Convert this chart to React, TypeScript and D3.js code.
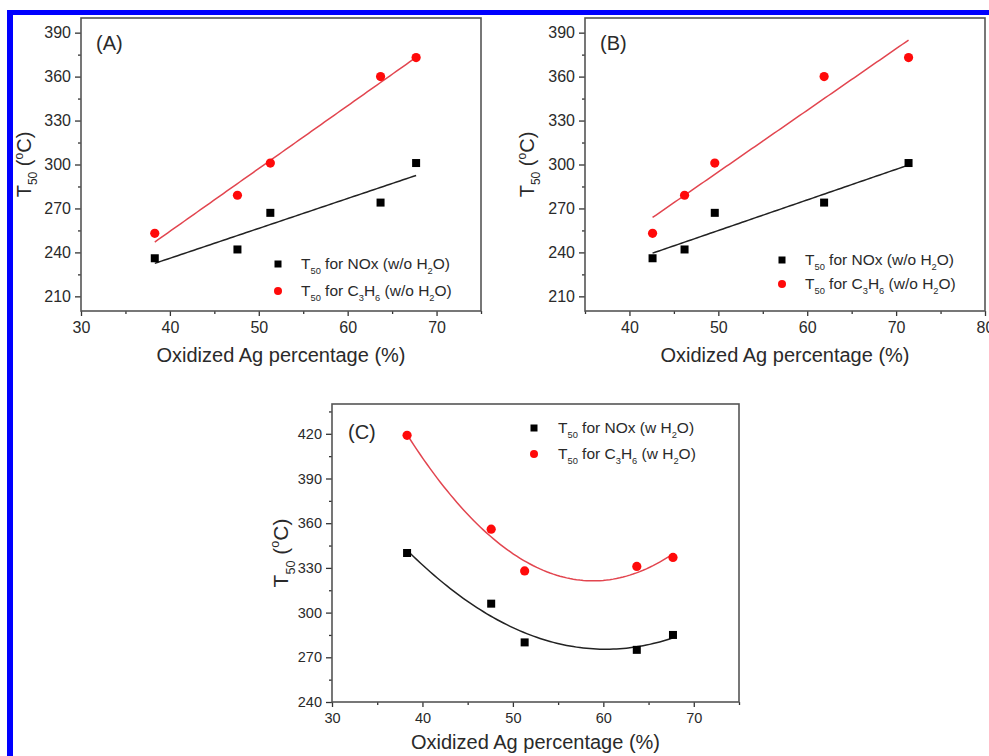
import React, { useEffect, useRef } from 'react';
import * as d3 from 'd3';

// oxidized Ag percentage (x) for each panel
const xA = [38.3, 47.6, 51.3, 63.7, 67.7];
const xB = [42.6, 46.2, 49.6, 61.9, 71.4];
const xC = [38.3, 47.6, 51.3, 63.7, 67.7];

// T50 values (°C)
const noxDry = [236, 242, 267, 274, 301];
const c3h6Dry = [253, 279, 301, 360, 373];
const noxWet = [340, 306, 280, 275, 285];
const c3h6Wet = [419, 356, 328, 331, 337];

const xTicksA = [30, 40, 50, 60, 70];
const xTicksB = [40, 50, 60, 70, 80];
const yTicksAB = [210, 240, 270, 300, 330, 360, 390];
const yTicksC = [240, 270, 300, 330, 360, 390, 420];

const legendDry = [
  [['T', ''], ['50', 'sub'], [' for NOx (w/o H', ''], ['2', 'sub'], ['O)', '']],
  [['T', ''], ['50', 'sub'], [' for C', ''], ['3', 'sub'], ['H', ''], ['6', 'sub'], [' (w/o H', ''], ['2', 'sub'], ['O)', '']],
];
const legendWet = [
  [['T', ''], ['50', 'sub'], [' for NOx (w H', ''], ['2', 'sub'], ['O)', '']],
  [['T', ''], ['50', 'sub'], [' for C', ''], ['3', 'sub'], ['H', ''], ['6', 'sub'], [' (w H', ''], ['2', 'sub'], ['O)', '']],
];
const yTitle = [['T', ''], ['50', 'sub'], [' (', ''], ['o', 'sup'], ['C)', '']];
const xTitle = 'Oxidized Ag percentage (%)';

const FONT = '"Liberation Sans", Arial, Helvetica, sans-serif';
const RED = '#ff0a0a';
const RED_LINE = '#e2454f';
const INK = '#2a2a2a';

function linearFit(xs, ys) {
  const mx = d3.mean(xs), my = d3.mean(ys);
  const sxy = d3.sum(xs, (v, i) => (v - mx) * (ys[i] - my));
  const sxx = d3.sum(xs, v => (v - mx) * (v - mx));
  const b = sxy / sxx;
  return x => my + b * (x - mx);
}

function quadFit(xs, ys) {
  // least squares y = a + b x + c x^2 via normal equations
  const S = k => d3.sum(xs, v => Math.pow(v, k));
  const T = k => d3.sum(xs, (v, i) => Math.pow(v, k) * ys[i]);
  const M = [
    [S(0), S(1), S(2), T(0)],
    [S(1), S(2), S(3), T(1)],
    [S(2), S(3), S(4), T(2)],
  ];
  for (let i = 0; i < 3; i++) {
    for (let j = i + 1; j < 3; j++) {
      const f = M[j][i] / M[i][i];
      for (let k = i; k < 4; k++) M[j][k] -= f * M[i][k];
    }
  }
  const c = [0, 0, 0];
  for (let i = 2; i >= 0; i--) {
    let s = M[i][3];
    for (let k = i + 1; k < 3; k++) s -= M[i][k] * c[k];
    c[i] = s / M[i][i];
  }
  return x => c[0] + c[1] * x + c[2] * x * x;
}

function rich(sel, parts, size) {
  let shift = 0;
  parts.forEach(([t, k]) => {
    const target = k === 'sub' ? size * 0.32 : k === 'sup' ? -size * 0.42 : 0;
    sel.append('tspan')
      .attr('dy', target - shift)
      .attr('font-size', k ? size * 0.6 : size)
      .text(t);
    shift = target;
  });
}

const panels = [
  {
    label: '(A)', xs: xA, nox: noxDry, c3h6: c3h6Dry, fit: 'linear',
    xDomain: [30, 75], yDomain: [200, 400], xTicks: xTicksA, yTicks: yTicksAB,
    left: 81, right: 481, top: 18, bottom: 311,
    legend: legendDry, legX: 278, legY: 264, legGap: 27, legTextX: 301,
    tickSize: 16, titleSize: 20, yTitleX: 31, labelX: 96, labelY: 50, xTitleOff: 51,
  },
  {
    label: '(B)', xs: xB, nox: noxDry, c3h6: c3h6Dry, fit: 'linear',
    xDomain: [35, 80], yDomain: [200, 400], xTicks: xTicksB, yTicks: yTicksAB,
    left: 585, right: 985, top: 18, bottom: 311,
    legend: legendDry, legX: 782, legY: 260, legGap: 24, legTextX: 805,
    tickSize: 16, titleSize: 20, yTitleX: 534, labelX: 600, labelY: 50, xTitleOff: 51,
  },
  {
    label: '(C)', xs: xC, nox: noxWet, c3h6: c3h6Wet, fit: 'quad',
    xDomain: [30, 75], yDomain: [240, 440], xTicks: xTicksA, yTicks: yTicksC,
    left: 332, right: 739, top: 404, bottom: 702,
    legend: legendWet, legX: 534, legY: 428, legGap: 26, legTextX: 558,
    tickSize: 14.5, titleSize: 20, yTitleX: 288, labelX: 348, labelY: 439, xTitleOff: 47,
  },
];

function drawPanel(svg, p) {
  const x = d3.scaleLinear().domain(p.xDomain).range([p.left, p.right]);
  const y = d3.scaleLinear().domain(p.yDomain).range([p.bottom, p.top]);
  const g = svg.append('g').attr('font-family', FONT);

  const xMinor = d3.range(p.xDomain[0], p.xDomain[1] + 0.01, 5).filter(v => !p.xTicks.includes(v));
  const yMinor = d3.range(p.yTicks[0] - 15, p.yDomain[1] + 0.01, 15)
    .filter(v => v >= p.yDomain[0] && !p.yTicks.includes(v));

  const styleAxis = a => {
    a.select('.domain').remove();
    a.selectAll('line').attr('stroke', '#333').attr('stroke-width', 1.3);
    a.selectAll('text').attr('font-family', FONT).attr('font-size', p.tickSize).attr('fill', INK);
  };

  g.append('g').attr('transform', `translate(0,${p.bottom})`)
    .call(d3.axisBottom(x).tickValues(p.xTicks).tickSize(5).tickPadding(6).tickFormat(d3.format('d')))
    .call(styleAxis);
  g.append('g').attr('transform', `translate(0,${p.bottom})`)
    .call(d3.axisBottom(x).tickValues(xMinor).tickSize(3).tickFormat(() => ''))
    .call(styleAxis);
  g.append('g').attr('transform', `translate(${p.left},0)`)
    .call(d3.axisLeft(y).tickValues(p.yTicks).tickSize(6).tickPadding(4).tickFormat(d3.format('d')))
    .call(styleAxis);
  g.append('g').attr('transform', `translate(${p.left},0)`)
    .call(d3.axisLeft(y).tickValues(yMinor).tickSize(3).tickFormat(() => ''))
    .call(styleAxis);

  g.append('rect')
    .attr('x', p.left).attr('y', p.top)
    .attr('width', p.right - p.left).attr('height', p.bottom - p.top)
    .attr('fill', 'none').attr('stroke', '#555').attr('stroke-width', 1.6);

  // fitted curves
  const xr = d3.extent(p.xs);
  const samples = d3.range(xr[0], xr[1] + 0.001, (xr[1] - xr[0]) / 80);
  const line = d3.line().x(d => x(d[0])).y(d => y(d[1]));
  [[p.nox, '#222'], [p.c3h6, RED_LINE]].forEach(([ys, col]) => {
    const f = p.fit === 'linear' ? linearFit(p.xs, ys) : quadFit(p.xs, ys);
    g.append('path')
      .attr('d', line(samples.map(v => [v, f(v)])))
      .attr('fill', 'none').attr('stroke', col).attr('stroke-width', 1.5);
  });

  // points
  g.append('g').selectAll('rect')
    .data(p.xs.map((v, i) => [v, p.nox[i]]))
    .join('rect')
    .attr('x', d => x(d[0]) - 4).attr('y', d => y(d[1]) - 4)
    .attr('width', 8).attr('height', 8).attr('fill', '#000');
  g.append('g').selectAll('circle')
    .data(p.xs.map((v, i) => [v, p.c3h6[i]]))
    .join('circle')
    .attr('cx', d => x(d[0])).attr('cy', d => y(d[1]))
    .attr('r', 4.6).attr('fill', RED);

  // legend
  g.append('rect').attr('x', p.legX - 3.5).attr('y', p.legY - 3.5).attr('width', 7).attr('height', 7).attr('fill', '#000');
  g.append('circle').attr('cx', p.legX).attr('cy', p.legY + p.legGap).attr('r', 4).attr('fill', RED);
  p.legend.forEach((parts, i) => {
    const t = g.append('text').attr('x', p.legTextX).attr('y', p.legY + i * p.legGap + 5).attr('fill', INK);
    rich(t, parts, 15.5);
  });

  // panel label
  g.append('text').attr('x', p.labelX).attr('y', p.labelY)
    .attr('font-size', 20).attr('fill', INK).text(p.label);

  // axis titles
  g.append('text')
    .attr('x', (p.left + p.right) / 2).attr('y', p.bottom + p.xTitleOff)
    .attr('text-anchor', 'middle').attr('font-size', p.titleSize).attr('fill', INK)
    .text(xTitle);
  const yt = g.append('text')
    .attr('transform', `translate(${p.yTitleX},${(p.top + p.bottom) / 2}) rotate(-90)`)
    .attr('text-anchor', 'middle').attr('fill', INK);
  rich(yt, yTitle, p.titleSize + (p.label === '(C)' ? 1 : 0));
}

const App = () => {
  const svgRef = useRef(null);

  useEffect(() => {
    const svg = d3.select(svgRef.current);
    svg.selectAll('*').remove();

    svg.append('rect').attr('width', 989).attr('height', 756).attr('fill', '#fff');
    // blue outer frame
    svg.append('rect').attr('x', 7).attr('y', 10).attr('width', 990).attr('height', 5).attr('fill', '#0000ff');
    svg.append('rect').attr('x', 7).attr('y', 10).attr('width', 6).attr('height', 760).attr('fill', '#0000ff');

    panels.forEach(p => drawPanel(svg, p));
  }, []);

  return (
    <div style={{ position: 'absolute', left: 0, top: 0 }}>
      <svg ref={svgRef} width={989} height={756} viewBox="0 0 989 756" style={{ display: 'block' }} />
    </div>
  );
};

export default App;
